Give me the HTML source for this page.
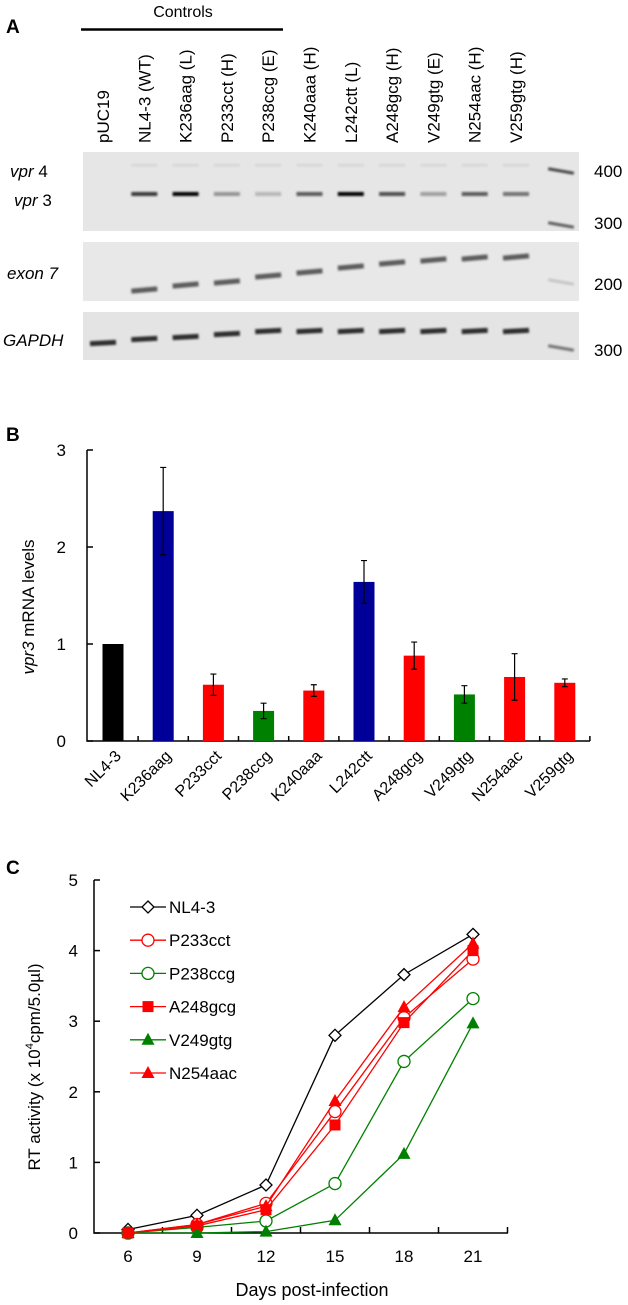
<!DOCTYPE html>
<html><head><meta charset="utf-8"><style>
body{margin:0;background:#fff;}
svg{display:block;font-family:"Liberation Sans",Arial,sans-serif;}
</style></head><body>
<svg id="fig" width="628" height="1305" viewBox="0 0 628 1305">
<defs>
<filter id="blur" x="-20%" y="-200%" width="140%" height="500%"><feGaussianBlur stdDeviation="1.1"/></filter>
</defs>
<g id="panelA">
<text x="6" y="33" font-size="19" font-weight="bold">A</text>
<text x="183" y="17" font-size="16" text-anchor="middle">Controls</text>
<line x1="81" y1="29.5" x2="283" y2="29.5" stroke="#000" stroke-width="2.5"/>
<rect x="83" y="152" width="496" height="79" fill="#e6e6e6"/>
<rect x="83" y="242" width="496" height="59" fill="#e8e8e8"/>
<rect x="83" y="312" width="496" height="48" fill="#e4e4e4"/>
<g font-size="17" font-style="italic">
<text x="10" y="177"><tspan>vpr</tspan><tspan font-style="normal"> 4</tspan></text>
<text x="14" y="206"><tspan>vpr</tspan><tspan font-style="normal"> 3</tspan></text>
<text x="7" y="279">exon 7</text>
<text x="3" y="346">GAPDH</text>
</g>
<g font-size="17">
<text x="594" y="177">400</text>
<text x="594" y="229">300</text>
<text x="594" y="290">200</text>
<text x="594" y="356">300</text>
</g>
<g id="lanes"></g>
</g>
<g id="panelB">
<text x="6" y="441" font-size="19" font-weight="bold">B</text>
<text transform="translate(34,607) rotate(-90)" font-size="17" text-anchor="middle"><tspan font-style="italic">vpr3</tspan> mRNA levels</text>
<g id="bars"></g>
</g>
<g id="panelC">
<text x="6" y="874" font-size="19" font-weight="bold">C</text>
<text transform="translate(40,1067) rotate(-90)" font-size="17" text-anchor="middle">RT activity (x 10<tspan dy="-7" font-size="11">4</tspan><tspan dy="7">cpm/5.0µl)</tspan></text>
<text x="312" y="1296" font-size="18" text-anchor="middle">Days post-infection</text>
<g id="lines"></g>
</g>
</svg>
<script>
const laneNames = ["pUC19","NL4-3 (WT)","K236aag (L)","P233cct (H)","P238ccg (E)","K240aaa (H)","L242ctt (L)","A248gcg (H)","V249gtg (E)","N254aac (H)","V259gtg (H)"];
const vpr3Intensity = [0,0.75,1,0.35,0.2,0.6,1,0.65,0.3,0.6,0.5];
const exon7Y = [0,290,285,282,276,272,267,263,260,258,257];
const gapdhY = [343,339,337,334,331,331,331,331,331,331,331];

const categories = ["NL4-3","K236aag","P233cct","P238ccg","K240aaa","L242ctt","A248gcg","V249gtg","N254aac","V259gtg"];
const barValues = [1.0,2.37,0.58,0.31,0.52,1.64,0.88,0.48,0.66,0.60];
const barErrors = [0,0.45,0.11,0.08,0.06,0.22,0.14,0.09,0.24,0.04];
const barColors = ["#000000","#000099","#ff0000","#008000","#ff0000","#000099","#ff0000","#008000","#ff0000","#ff0000"];
const yTicksB = [0,1,2,3];

const days = [6,9,12,15,18,21];
const seriesNames = ["NL4-3","P233cct","P238ccg","A248gcg","V249gtg","N254aac"];
const nl43 = [0.05,0.25,0.68,2.80,3.66,4.23];
const p233 = [0,0.12,0.42,1.72,3.05,3.88];
const p238 = [0,0.08,0.17,0.70,2.43,3.32];
const a248 = [0,0.10,0.33,1.53,2.98,4.00];
const v249 = [0,0,0.02,0.18,1.12,2.97];
const n254 = [0,0.12,0.38,1.87,3.20,4.10];
const yTicksC = [0,1,2,3,4,5];

const NS="http://www.w3.org/2000/svg";
function mk(tag, attrs, parent){const e=document.createElementNS(NS,tag);for(const k in attrs)e.setAttribute(k,attrs[k]);parent.appendChild(e);return e;}

const lanes=document.getElementById('lanes');
const laneX = i => 103 + i*41.3;
laneNames.forEach((n,i)=>{
  const t=mk('text',{transform:`translate(${laneX(i)+6},143) rotate(-90)`,'font-size':'17'},lanes);
  t.textContent=n;
  
  
  const bw=26,x=laneX(i)-bw/2;
  if(i>0){
    const b1=mk('rect',{x:x,y:192,width:bw,height:4,fill:'#000',opacity:vpr3Intensity[i],filter:'url(#blur)'},lanes);
    
    
    const b0=mk('rect',{x:x,y:164,width:bw,height:2.5,fill:'#000',opacity:0.07,filter:'url(#blur)'},lanes);
    
    
    const b2=mk('rect',{x:x,y:exon7Y[i]-2.5,width:bw,height:5,fill:'#222',opacity:0.7,filter:'url(#blur)',transform:`rotate(-5 ${laneX(i)} ${exon7Y[i]})`},lanes);
    
    
  }
  const b3=mk('rect',{x:x,y:gapdhY[i]-2.5,width:bw,height:5,fill:'#000',opacity:0.8,filter:'url(#blur)',transform:`rotate(-3 ${laneX(i)} ${gapdhY[i]})`},lanes);
  
  
});
[[171,0.7],[225,0.6],[282,0.15],[348,0.5]].forEach(([y,o])=>{
  const l=mk('rect',{x:548,y:y-1.5,width:26,height:3,fill:'#000',opacity:o,filter:'url(#blur)',transform:`rotate(10 561 ${y})`},lanes);
  
  
});

const gB=document.getElementById('bars');
const yB = v => 741 - v*97;
const xB = i => 113 + i*50.2;
const ax=mk('path',{d:`M87 ${yB(3)} V741 H590`,stroke:'#000','stroke-width':1.5,fill:'none'},gB);


yTicksB.forEach(v=>{
  const tk=mk('line',{x1:87,x2:93,y1:yB(v),y2:yB(v),stroke:'#000','stroke-width':1.5},gB);
  
  
  const t=mk('text',{x:66,y:yB(v)+6,'font-size':'17','text-anchor':'end'},gB);
  t.textContent=v;
  
  
});
categories.forEach((c,i)=>{
  const tk=mk('line',{x1:xB(i)+25.1,x2:xB(i)+25.1,y1:741,y2:736,stroke:'#000','stroke-width':1.5},gB);
  
  
  const r=mk('rect',{x:xB(i)-10.5,y:yB(barValues[i]),width:21,height:741-yB(barValues[i]),fill:barColors[i]},gB);
  
  
  if(barErrors[i]>0){
    const lo=yB(barValues[i]-barErrors[i]),hi=yB(barValues[i]+barErrors[i]);
    const e=mk('path',{d:`M${xB(i)} ${lo} V${hi} M${xB(i)-3} ${hi} h6 M${xB(i)-3} ${lo} h6`,stroke:'#000','stroke-width':1.2,fill:'none'},gB);
    
    
  }
  const t=mk('text',{transform:`translate(${xB(i)+9},757) rotate(-45)`,'font-size':'16','text-anchor':'end'},gB);
  t.textContent=c;
  
  
});

const gC=document.getElementById('lines');
const yC = v => 1233 - v*70.6;
const xC = d => 128 + (d-6)/3*69;
const axc=mk('path',{d:`M94 ${yC(5)} V1233 H508`,stroke:'#000','stroke-width':1.5,fill:'none'},gC);


yTicksC.forEach(v=>{
  const tk=mk('line',{x1:94,x2:100,y1:yC(v),y2:yC(v),stroke:'#000','stroke-width':1.5},gC);
  
  
  const t=mk('text',{x:78,y:yC(v)+6,'font-size':'17','text-anchor':'end'},gC);
  t.textContent=v;
  
  
});
days.forEach(d=>{
  const tk=mk('line',{x1:xC(d)+34.5,x2:xC(d)+34.5,y1:1233,y2:1227,stroke:'#000','stroke-width':1.5},gC);
  
  
  const t=mk('text',{x:xC(d),y:1262,'font-size':'17','text-anchor':'middle'},gC);
  t.textContent=d;
  
  
});
const seriesData=[nl43,p233,p238,a248,v249,n254];
const seriesColor=["#000","#ff0000","#008000","#ff0000","#008000","#ff0000"];
const seriesMarker=["diamond","circle","circle","square","triangle","triangle"];
function marker(type,x,y,col,parent){
  let e;
  if(type==="diamond") e=mk('path',{d:`M${x} ${y-6}L${x+6} ${y}L${x} ${y+6}L${x-6} ${y}Z`,fill:'#fff',stroke:col,'stroke-width':1.3},parent);
  else if(type==="circle") e=mk('circle',{cx:x,cy:y,r:6,fill:'#fff',stroke:col,'stroke-width':1.3},parent);
  else if(type==="square") e=mk('rect',{x:x-5.5,y:y-5.5,width:11,height:11,fill:col},parent);
  else e=mk('path',{d:`M${x} ${y-7}L${x+6.5} ${y+5}L${x-6.5} ${y+5}Z`,fill:col},parent);
  return e;
}
seriesData.forEach((s,k)=>{
  const p=mk('polyline',{points:s.map((v,i)=>xC(days[i])+','+yC(v)).join(' '),fill:'none',stroke:seriesColor[k],'stroke-width':1.3},gC);
  
  
  s.forEach((v,i)=>{
    const m=marker(seriesMarker[k],xC(days[i]),yC(v),seriesColor[k],gC);
    
    
  });
  const ly=907+k*33.2;
  const ll=mk('line',{x1:130,x2:166,y1:ly,y2:ly,stroke:seriesColor[k],'stroke-width':1.3},gC);
  
  
  const lm=marker(seriesMarker[k],148,ly,seriesColor[k],gC);
  
  
  const t=mk('text',{x:169,y:ly+6,'font-size':'17'},gC);
  t.textContent=seriesNames[k];
  
  
});
</script>
</body></html>
